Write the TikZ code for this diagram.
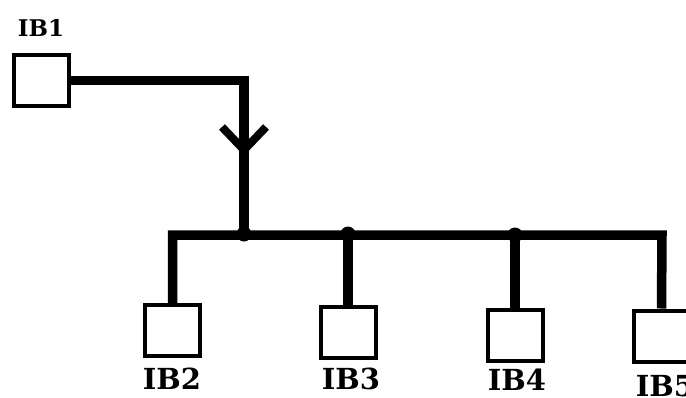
\documentclass[tikz,border=0pt]{standalone}
\usepackage{fontspec}
\newfontfamily\ibfont{DejaVu Serif}
\usetikzlibrary{positioning}

\begin{document}
\begin{tikzpicture}[x=1pt, y=-1pt,
    ibbox/.style={draw, line width=4pt, minimum width=55pt, minimum height=51pt, inner sep=0pt},
    iblabel/.style={font=\ibfont\fontsize{29}{30}\selectfont\bfseries, inner sep=0pt},
    wire/.style={line width=9.5pt},
    junction/.style={circle, fill, inner sep=0pt, minimum size=15pt}]
  \useasboundingbox (0,0) rectangle (686,397);

  % Source block
  \node[ibbox] (ib1) at (41.5,80.5) {};
  \node[iblabel, font=\ibfont\fontsize{23}{24}\selectfont\bfseries] (lab1) at (41,28) {IB1};

  % Receiving blocks
  \node[ibbox] (ib2) at (172.5,330.5) {};
  \node[ibbox] (ib3) at (348.5,332) {};
  \node[ibbox] (ib4) at (515,335.5) {};
  \node[ibbox] (ib5) at (661.5,336) {};
  \node[iblabel] (lab2) at (172,379) {IB2};
  \node[iblabel] (lab3) at (351,379) {IB3};
  \node[iblabel] (lab4) at (517,380) {IB4};
  \node[iblabel] (lab5) at (665,386) {IB5};

  % Bus junctions
  \node[junction] (j1) at (244,234) {};
  \node[junction] (j3) at (348,234) {};
  \node[junction] (j4) at (515,235) {};
  \coordinate (busend) at (662,235);
  \coordinate (tip) at (244,150);

  % Feed from IB1 down to the bus
  \draw[wire] (ib1.east) -| (j1.center);
  \draw[line width=8pt] (tip) ++(-22,-23) -- (tip) -- ++(22,-23);

  % Bus and drops
  \draw[wire] (ib2.north) |- (busend) -- (ib5.north);
  \draw[wire] (j3.center) -- (j3 |- ib3.north);
  \draw[wire] (j4.center) -- (j4 |- ib4.north);
\end{tikzpicture}
\end{document}
